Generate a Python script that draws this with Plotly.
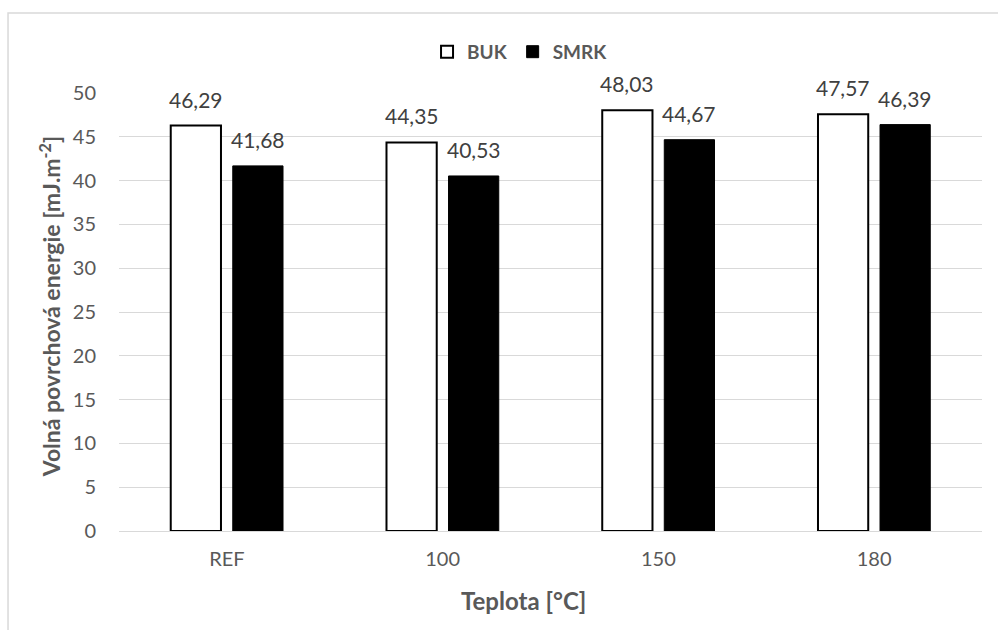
import plotly.graph_objects as go

categories = ["REF", "100", "150", "180"]
buk = [46.29, 44.35, 48.03, 47.57]
smrk = [41.68, 40.53, 44.67, 46.39]
y_ticks = [0, 5, 10, 15, 20, 25, 30, 35, 40, 45, 50]

FONT = "Lato"
GRAY = "#595959"
LABEL = "#404040"


def fmt(v):
    return f"{v:.2f}".replace(".", ",")


fig = go.Figure()
fig.add_trace(go.Bar(
    name="BUK", x=categories, y=buk,
    marker=dict(color="white", line=dict(color="black", width=2)),
))
fig.add_trace(go.Bar(
    name="SMRK", x=categories, y=smrk,
    marker=dict(color="black", line=dict(color="black", width=1)),
))

# value labels above each bar, shifted onto their bar within the group
annotations = []
for series, shift in ((buk, -31), (smrk, 31)):
    for i, v in enumerate(series):
        annotations.append(dict(
            x=i, y=v, xref="x", yref="y", text=fmt(v), showarrow=False,
            xanchor="center", yanchor="bottom", xshift=shift, yshift=12,
            font=dict(family=FONT, size=21, color=LABEL),
        ))

# axis titles, centred on the chart area rather than the plot area
annotations.append(dict(
    x=-0.080, y=0.513, xref="paper", yref="paper", textangle=-90,
    text="<b>Volná povrchová energie [mJ.m<sup>-2</sup>]</b>", showarrow=False,
    xanchor="center", yanchor="middle",
    font=dict(family=FONT, size=23, color=GRAY),
))
annotations.append(dict(
    x=0.469, y=-0.158, xref="paper", yref="paper",
    text="<b>Teplota [°C]</b>", showarrow=False,
    xanchor="center", yanchor="middle",
    font=dict(family=FONT, size=24, color=GRAY),
))

fig.update_layout(
    width=998, height=630,
    margin=dict(l=119, r=16, t=93, b=99),
    paper_bgcolor="white", plot_bgcolor="white",
    barmode="group", bargap=0.425, bargroupgap=0.19,
    font=dict(family=FONT, color=GRAY),
    legend=dict(
        orientation="h", x=0.4647, xanchor="center", y=1.094, yanchor="middle",
        font=dict(family=FONT, size=19, color=GRAY, weight="bold"),
        itemwidth=30, traceorder="normal",
    ),
    xaxis=dict(
        type="category",
        showgrid=False, showline=False, zeroline=False,
        ticks="", tickfont=dict(family=FONT, size=20, color=GRAY),
        ticklabelstandoff=14,
    ),
    yaxis=dict(
        range=[0, 50], tickvals=y_ticks,
        showgrid=True, gridcolor="#d9d9d9", gridwidth=1,
        zeroline=True, zerolinecolor="#d9d9d9", zerolinewidth=1,
        showline=False, ticks="",
        tickfont=dict(family=FONT, size=20, color=GRAY),
        ticklabelstandoff=22,
    ),
    annotations=annotations,
    shapes=[dict(
        type="rect", xref="paper", yref="paper",
        x0=-0.1286, x1=1.2, y0=-0.5, y1=1.1828,
        line=dict(color="#d9d9d9", width=1.5), fillcolor="rgba(0,0,0,0)",
        layer="below",
    )],
)

fig.write_html("out.html")
